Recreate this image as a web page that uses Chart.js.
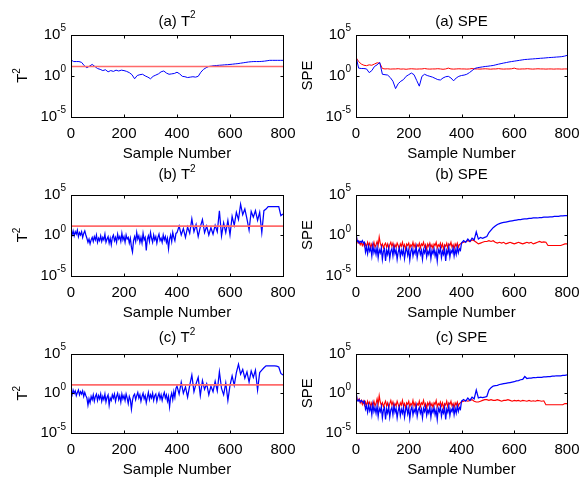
<!DOCTYPE html>
<html>
<head>
<meta charset="utf-8">
<script src="https://cdn.jsdelivr.net/npm/chart.js@4.4.1/dist/chart.umd.min.js"></script>
<style>
  html, body { margin: 0; padding: 0; background: #fff; }
  #wrap { position: relative; width: 587px; height: 477px; background: #fff; }
  #wrap canvas { position: absolute; left: 0; top: 0; }
</style>
</head>
<body>
<div id="wrap"></div>
<script>
// ===== monitoring statistics, 6 panels =====
// all series stored as log10 of the value (y axis is logarithmic)

const xTicks = [0, 200, 400, 600, 800];
const yTicks = [1e-5, 1e0, 1e5];
const yTickExp = ['-5', '0', '5'];

// (a) panels, one value every 10 samples
const stepA = 10;
const t2A = [
  1.9, 1.7, 1.7, 1.7, 1.6, 1.2, 0.95, 1.15, 1.35, 1.1,
  0.85, 0.75, 0.6, 0.7, 0.45, 0.6, 0.5, 0.65, 0.55, 0.65,
  0.6, 0.5, 0.35, 0.1, -0.4, 0.0, 0.1, 0.15, -0.05, -0.2,
  -0.4, -0.1, 0.05, 0.2, 0.45, 0.55, 0.3, 0.15, 0.2, 0.25,
  0.4, 0.2, -0.1, -0.15, -0.25, -0.2, -0.15, -0.2, -0.1, 0.4,
  0.75, 0.95, 1.1, 1.15, 1.2, 1.22, 1.25, 1.27, 1.3, 1.32,
  1.35, 1.38, 1.42, 1.45, 1.5, 1.55, 1.6, 1.65, 1.68, 1.7,
  1.7, 1.7, 1.72, 1.75, 1.8, 1.85, 1.85, 1.85, 1.85, 1.85, 1.85
];
const speA = [
  2.3, 0.9, 0.85, 0.85, 0.8, 0.35, 0.6, 1.1, 1.3, 1.6,
  0.15, 0.1, 0.05, -0.25, -0.7, -1.6, -1.0, -0.7, -0.5, -0.1,
  0.1, 0.3, 0.1, -0.6, -1.3, -0.1, 0.15, 0.0, -0.1, -0.2,
  -0.35, -0.5, -0.55, -0.3, -0.15, -0.1, -0.3, -0.65, -0.3, -0.1,
  0.0, 0.05, 0.15, 0.35, 0.6, 0.85, 0.95, 1.0, 1.05, 1.1,
  1.13, 1.18, 1.22, 1.3, 1.38, 1.45, 1.52, 1.58, 1.65, 1.7,
  1.75, 1.8, 1.85, 1.9, 1.95, 1.97, 2.0, 2.02, 2.05, 2.07,
  2.1, 2.12, 2.15, 2.18, 2.2, 2.22, 2.25, 2.27, 2.3, 2.36, 2.45
];
const speALimit = [
  2.2, 1.7, 1.4, 1.25, 1.2, 1.3, 1.25, 1.4, 1.55, 1.5,
  0.85, 0.8, 0.82, 0.78, 0.8, 0.8, 0.83, 0.78, 0.8, 0.76,
  0.8, 0.82, 0.8, 0.78, 0.8, 0.8, 0.85, 0.8, 0.78, 0.8,
  0.8, 0.83, 0.8, 0.76, 0.8, 0.9, 0.8, 0.78, 0.8, 0.82,
  0.8, 0.8, 0.78, 0.8, 0.85, 0.8, 0.8, 0.78, 0.8, 0.82,
  0.8, 0.77, 0.8, 0.8, 0.84, 0.8, 0.78, 0.8, 0.8, 0.82,
  0.9, 0.8, 0.78, 0.8, 0.8, 0.83, 0.8, 0.78, 0.8, 0.82,
  0.8, 0.8, 0.78, 0.8, 0.8, 0.78, 0.8, 0.8, 0.78, 0.8, 0.8
];

// (b) and (c) panels: samples 0..400 every 4, then 408..800 every 8
const headStep = 4;
const tailStep = 8;
const tailStart = 408;

const t2BHead = [
  0.3, 0.0, 0.5, -0.1, 0.4, 0.1, 0.6, -0.2, 0.3, 0.0,
  0.4, -0.3, 0.2, 0.5, 0.0, -0.4, -0.9, -0.5, -1.1, -0.6,
  -0.3, -0.8, -0.2, -0.6, 0.0, -0.9, -0.4, -0.7, -0.1, -0.8,
  -0.3, -0.6, 0.1, -0.9, -0.5, -0.2, -1.0, -0.4, -1.2, -0.3,
  0.0, -0.7, -0.3, -0.9, 0.1, -0.5, -0.2, -0.8, 0.2, -0.6,
  -0.2, -0.9, 0.0, -0.5, -0.3, -1.0, -0.4, -1.5, -2.1, -0.7,
  -0.2, -0.8, 0.3, -0.5, -0.1, -0.9, -0.3, -1.0, 0.2, -0.6,
  -0.3, -1.9, -0.5, -0.1, -0.8, 0.3, -0.4, -0.9, 0.0, -0.6,
  -0.2, -1.0, -0.3, 0.1, -0.7, -0.4, -0.9, 0.0, -0.6, -0.2,
  -0.9, -0.4, -1.7, -0.5, 0.0, -0.8, 0.3, -0.3, -0.7, 0.2,
  0.3
];
const t2BTail = [
  1.1, 0.0, 0.8, -0.3, 1.0, 0.2, 2.0, 0.4, 1.3,
  -0.2, 1.0, 1.9, 0.3, 1.1, 0.0, 0.9, 0.1, 1.2, 0.4,
  3.0, -0.1, 1.5, 0.3, 1.8, 0.0, 2.3, 1.2, 2.8, 1.9,
  3.8, 2.5, 3.2, 2.0, 0.6, 2.9, 2.2, 3.0, 1.8, 2.8,
  0.3, 3.0, 3.2, 3.5, 3.5, 3.5, 3.5, 3.5, 3.5, 2.4,
  2.6
];
const t2CHead = [
  0.2, -0.2, 0.4, 0.0, 0.3, -0.3, 0.1, 0.4, -0.2, 0.2,
  -0.1, 0.3, -0.4, 0.1, -0.3, -0.6, -1.5, -0.7, -1.2, -0.4,
  -0.8, -0.2, -1.0, -0.4, -0.1, -0.9, -0.3, -0.7, -0.1, -1.0,
  -0.4, -0.8, -0.1, -1.1, -0.5, -0.2, -1.5, -0.6, -0.9, -0.2,
  -0.6, -0.1, -1.0, -0.4, 0.0, -0.8, -0.3, -1.1, -0.1, -0.7,
  -0.3, -0.9, -0.1, -0.6, -1.3, -0.4, -0.8, -2.0, -0.9, -0.3,
  -0.1, -0.8, -0.3, 0.1, -0.6, -0.2, -1.0, -0.4, 0.0, -0.7,
  -0.3, -1.2, -0.5, 0.1, -0.8, -0.2, -0.6, 0.0, -0.9, -0.3,
  -0.1, -1.0, -0.4, 0.0, -0.7, -0.2, -0.9, -0.3, 0.1, -0.6,
  -0.2, -1.0, -0.4, -1.7, -0.5, 0.0, -0.8, 0.2, -0.5, 0.6,
  0.9
];
const t2CTail = [
  -0.1, 1.4, 0.0, 0.8, -0.5, 1.0, 2.3, 0.2, 1.2,
  2.0, -0.3, 1.6, 0.5, 1.2, -0.2, 0.9, 0.2, 1.5, 0.3,
  2.7, 0.6, -0.2, 1.3, -0.9, 1.0, 2.2, 1.0, 2.6, 3.65,
  2.4, 3.0, 1.9, 2.7, 1.4, 2.8, 2.0, 2.9, 0.4, 2.6,
  2.9, 3.2, 3.45, 3.45, 3.45, 3.45, 3.45, 3.4, 3.3, 2.5,
  2.3
];

const speBHead = [
  0.45, -0.8, -0.7, -1.0, -0.8, -0.9, -0.7, -1.0, -0.9, -2.1,
  -1.5, -2.3, -1.4, -2.0, -1.6, -2.6, -1.3, -2.2, -1.7, -2.4,
  -1.5, -2.8, -1.8, -2.2, -1.6, -3.0, -2.0, -1.7, -3.2, -1.9,
  -2.4, -1.6, -2.9, -2.0, -1.7, -2.6, -1.5, -2.3, -1.8, -3.0,
  -2.1, -1.6, -2.7, -1.9, -2.4, -1.7, -2.9, -2.0, -1.6, -2.5,
  -1.8, -3.1, -2.0, -1.6, -2.6, -1.9, -2.3, -1.5, -2.8, -2.0,
  -1.7, -2.4, -1.9, -3.0, -1.8, -2.2, -1.6, -2.7, -2.0, -2.4,
  -1.6, -2.9, -1.9, -2.3, -1.7, -2.6, -2.0, -3.2, -1.8, -2.2,
  -1.6, -2.8, -2.0, -2.4, -1.7, -3.2, -1.9, -2.3, -1.5, -2.7,
  -1.9, -2.2, -1.6, -2.6, -1.8, -2.4, -1.5, -2.2, -1.7, -1.9,
  -1.0
];
const speBTail = [
  -0.7, -0.9, -0.5, -0.8, -0.4, -0.6, 0.4, -0.5, -0.3,
  -0.4, -0.3, -0.2, 0.3, 0.6, 0.9, 1.1, 1.3, 1.4, 1.5,
  1.55, 1.6, 1.65, 1.7, 1.75, 1.8, 1.85, 1.9, 1.9, 1.95,
  2.0, 2.0, 2.05, 2.05, 2.1, 2.1, 2.1, 2.15, 2.15, 2.2,
  2.2, 2.2, 2.25, 2.25, 2.3, 2.3, 2.3, 2.35, 2.35, 2.4,
  2.4
];
const speBLimitHead = [
  0.0, -0.7, -1.0, -0.8, -1.2, -0.9, -1.3, -1.0, -1.4, -1.1,
  -1.5, -0.9, -1.3, -1.0, -1.6, -1.1, -1.4, -0.9, -1.5, -1.2,
  -0.8, -1.3, -0.25, -1.0, -1.4, -1.1, -1.6, -1.2, -1.0, -1.5,
  -1.1, -1.7, -1.2, -0.9, -1.4, -1.0, -1.6, -1.2, -1.5, -1.0,
  -1.3, -1.7, -1.1, -1.4, -0.9, -1.5, -1.2, -1.8, -1.1, -1.3,
  -1.0, -1.6, -1.2, -1.4, -0.9, -1.5, -1.1, -1.7, -1.2, -1.4,
  -1.0, -1.6, -1.1, -1.3, -0.9, -1.5, -1.2, -1.8, -1.1, -1.4,
  -1.0, -1.5, -1.2, -1.7, -1.1, -1.3, -0.9, -1.6, -1.2, -1.4,
  -1.0, -1.5, -1.1, -1.8, -1.2, -1.4, -1.0, -1.6, -1.1, -1.3,
  -0.9, -1.5, -1.2, -1.7, -1.1, -1.4, -1.0, -1.5, -1.2, -1.1,
  -1.0
];
const speBLimitTail = [
  -0.9, -0.8, -0.7, -0.8, -0.6, -0.7, -0.9, -1.1, -1.0,
  -0.9, -0.8, -0.8, -0.7, -0.8, -0.7, -0.9, -1.0, -0.9, -1.0,
  -0.9, -1.1, -1.0, -0.9, -1.0, -1.1, -1.0, -0.9, -1.0, -1.1,
  -1.0, -0.9, -1.0, -0.9, -1.1, -1.0, -0.9, -0.8, -0.9, -0.85,
  -0.9, -1.3, -1.3, -1.3, -1.3, -1.3, -1.3, -1.3, -1.2, -1.1,
  -1.1
];

const speCHead = [
  0.4, -0.9, -1.0, -0.8, -1.1, -0.9, -1.0, -1.2, -1.0, -2.0,
  -1.6, -2.4, -1.5, -2.2, -1.7, -2.7, -1.4, -2.3, -1.8, -2.5,
  -1.6, -2.9, -1.9, -2.3, -1.7, -3.1, -2.1, -1.8, -3.3, -2.0,
  -2.5, -1.7, -3.0, -2.1, -1.8, -2.7, -1.6, -2.4, -1.9, -3.1,
  -2.2, -1.7, -2.8, -2.0, -2.5, -1.8, -3.0, -2.1, -1.7, -2.6,
  -1.9, -3.2, -2.1, -1.7, -2.7, -2.0, -2.4, -1.6, -2.9, -2.1,
  -1.8, -2.5, -2.0, -3.1, -1.9, -2.3, -1.7, -2.8, -2.1, -2.5,
  -1.7, -3.0, -2.0, -2.4, -1.8, -2.7, -2.1, -3.3, -1.9, -2.3,
  -1.7, -2.9, -2.1, -2.5, -1.8, -3.3, -2.0, -2.4, -1.6, -2.8,
  -2.0, -2.3, -1.7, -2.7, -1.9, -2.5, -1.6, -2.3, -1.8, -2.0,
  -1.0
];
const speCTail = [
  -0.8, -1.0, -0.6, -0.9, -0.5, -0.7, 0.4, -0.6, -0.5,
  -0.55, -0.5, -0.4, 0.4, 0.7, 0.9, 0.95, 1.0, 1.1, 1.15,
  1.2, 1.25, 1.3, 1.35, 1.4, 1.45, 1.55, 1.6, 1.7, 1.75,
  2.1, 1.85, 1.9, 1.9, 1.95, 1.95, 2.0, 2.0, 2.0, 2.05,
  2.05, 2.1, 2.1, 2.15, 2.15, 2.2, 2.2, 2.2, 2.25, 2.25,
  2.3
];
const speCLimitHead = [
  0.0, -0.8, -0.9, -0.7, -1.2, -0.9, -1.4, -1.0, -1.5, -1.1,
  -1.6, -1.0, -1.4, -1.1, -1.7, -1.2, -1.5, -1.0, -1.6, -1.3,
  -0.7, -1.4, -0.3, -1.1, -1.5, -1.2, -1.7, -1.3, -1.0, -1.6,
  -1.2, -1.8, -1.3, -0.9, -1.5, -1.1, -1.7, -1.3, -1.6, -1.0,
  -1.4, -1.8, -1.2, -1.5, -0.9, -1.6, -1.3, -1.9, -1.2, -1.4,
  -1.0, -1.7, -1.3, -1.5, -0.9, -1.6, -1.2, -1.8, -1.3, -1.5,
  -1.0, -1.7, -1.2, -1.4, -0.9, -1.6, -1.3, -1.9, -1.2, -1.5,
  -1.1, -1.6, -1.3, -1.8, -1.2, -1.4, -0.9, -1.7, -1.3, -1.5,
  -1.1, -1.6, -1.2, -1.9, -1.3, -1.5, -1.0, -1.7, -1.2, -1.4,
  -1.0, -1.6, -1.3, -1.8, -1.2, -1.5, -1.1, -1.6, -1.3, -1.2,
  -1.1
];
const speCLimitTail = [
  -1.0, -0.9, -1.0, -0.9, -0.8, -1.0, -1.1, -1.1, -1.0,
  -0.9, -0.8, -0.8, -0.9, -0.8, -0.9, -0.9, -0.8, -0.9, -1.0,
  -0.9, -0.9, -0.8, -0.9, -1.0, -0.9, -0.95, -0.9, -1.0, -0.9,
  -0.95, -1.0, -0.9, -1.0, -0.95, -1.0, -0.9, -0.95, -1.0, -0.95,
  -1.45, -1.45, -1.45, -1.45, -1.45, -1.45, -1.45, -1.45, -1.45, -1.3,
  -1.3
];

// T2 control limits (log10), constant over all samples
const t2Limits = [1.1, 1.1, 1.05];

// --- layout (pixels) ---
const FONT = '"Liberation Sans", Arial, sans-serif';
const cols = [[71, 283], [356, 567]];
const rows = [[34.5, 116.5], [194.5, 275.5], [353.5, 433]];
const titleY = [21.5, 175, 338];

function toPoints(logs, step, start) {
  return logs.map((v, i) => ({ x: start + i * step, y: Math.pow(10, v) }));
}
function joined(head, tail) {
  return toPoints(head, headStep, 0).concat(toPoints(tail, tailStep, tailStart));
}
function flat(v) {
  return [{ x: 0, y: Math.pow(10, v) }, { x: 800, y: Math.pow(10, v) }];
}

const panels = [
  { row: 0, col: 0, tag: '(a) ', kind: 't2', blue: toPoints(t2A, stepA, 0), red: flat(t2Limits[0]) },
  { row: 0, col: 1, tag: '(a) ', kind: 'spe', blue: toPoints(speA, stepA, 0), red: toPoints(speALimit, stepA, 0) },
  { row: 1, col: 0, tag: '(b) ', kind: 't2', blue: joined(t2BHead, t2BTail), red: flat(t2Limits[1]) },
  { row: 1, col: 1, tag: '(b) ', kind: 'spe', blue: joined(speBHead, speBTail), red: joined(speBLimitHead, speBLimitTail) },
  { row: 2, col: 0, tag: '(c) ', kind: 't2', blue: joined(t2CHead, t2CTail), red: flat(t2Limits[2]) },
  { row: 2, col: 1, tag: '(c) ', kind: 'spe', blue: joined(speCHead, speCTail), red: joined(speCLimitHead, speCLimitTail) }
];

// text made of pieces: [text, size, rise]
function drawParts(ctx, parts, x, y, align) {
  let w = 0;
  parts.forEach(p => { ctx.font = p[1] + 'px ' + FONT; w += ctx.measureText(p[0]).width; });
  let cx = align === 'center' ? x - w / 2 : (align === 'right' ? x - w : x);
  ctx.textAlign = 'left';
  ctx.textBaseline = 'middle';
  parts.forEach(p => {
    ctx.font = p[1] + 'px ' + FONT;
    ctx.fillText(p[0], cx, y - (p[2] || 0));
    cx += ctx.measureText(p[0]).width;
  });
}

const framePlugin = {
  id: 'frame',
  afterDatasetsDraw(chart, args, opts) {
    const ctx = chart.ctx;
    const a = chart.chartArea;
    const xs = chart.scales.x, ys = chart.scales.y;
    ctx.save();
    ctx.strokeStyle = '#000';
    ctx.fillStyle = '#000';
    ctx.lineWidth = 1;
    const l = Math.round(a.left) + 0.5, r = Math.round(a.right) + 0.5;
    const t = Math.round(a.top) + 0.5, b = Math.round(a.bottom) + 0.5;
    ctx.strokeRect(l, t, r - l, b - t);
    ctx.beginPath();
    xTicks.forEach(v => {
      const px = Math.round(xs.getPixelForValue(v)) + 0.5;
      ctx.moveTo(px, b); ctx.lineTo(px, b - 3);
      ctx.moveTo(px, t); ctx.lineTo(px, t + 3);
    });
    yTicks.forEach(v => {
      const py = Math.round(ys.getPixelForValue(v)) + 0.5;
      ctx.moveTo(l, py); ctx.lineTo(l + 3, py);
      ctx.moveTo(r, py); ctx.lineTo(r - 3, py);
    });
    ctx.stroke();

    // tick labels
    xTicks.forEach(v => {
      drawParts(ctx, [[String(v), 15]], xs.getPixelForValue(v), b + 16, 'center');
    });
    yTicks.forEach((v, i) => {
      drawParts(ctx, [['10', 15], [yTickExp[i], 10, 6]], a.left - 5, ys.getPixelForValue(v), 'right');
    });

    // titles
    const cx = (a.left + a.right) / 2;
    const cy = (a.top + a.bottom) / 2;
    const name = opts.kind === 't2' ? [['T', 15], ['2', 10, 6]] : [['SPE', 15]];
    const title = opts.kind === 't2' ? [[opts.tag + 'T', 15], ['2', 10, 6]] : [[opts.tag + 'SPE', 15]];
    drawParts(ctx, title, cx, opts.titleY, 'center');
    drawParts(ctx, [['Sample Number', 15]], cx, b + 36.5, 'center');
    ctx.translate(a.left - 48, cy);
    ctx.rotate(-Math.PI / 2);
    drawParts(ctx, name, 0, 0, 'center');
    ctx.restore();
  }
};

const wrap = document.getElementById('wrap');

panels.forEach(p => {
  const cv = document.createElement('canvas');
  cv.width = 587; cv.height = 477;
  wrap.appendChild(cv);
  const [L, R] = cols[p.col];
  const [T, B] = rows[p.row];
  const isT2 = p.kind === 't2';
  const noisy = p.row > 0;

  new Chart(cv, {
    type: 'line',
    data: {
      datasets: [
        { data: p.blue, borderColor: '#0000ff', borderWidth: noisy ? 1.25 : 1, pointRadius: 0, order: isT2 ? 1 : 0 },
        {
          data: p.red, pointRadius: 0, order: isT2 ? 0 : 1,
          borderColor: isT2 ? '#ff6a6a' : '#ff0000',
          borderWidth: isT2 ? 1.6 : (noisy ? 1.15 : 1)
        }
      ]
    },
    options: {
      responsive: false,
      animation: false,
      events: [],
      devicePixelRatio: 1,
      layout: { padding: { left: L, right: 587 - R, top: T, bottom: 477 - B } },
      plugins: {
        legend: { display: false },
        tooltip: { enabled: false },
        frame: { kind: p.kind, tag: p.tag, titleY: titleY[p.row] }
      },
      scales: {
        x: { type: 'linear', min: 0, max: 800, display: false },
        y: { type: 'logarithmic', min: 1e-5, max: 1e5, display: false }
      }
    },
    plugins: [framePlugin]
  });
});
</script>
</body>
</html>
